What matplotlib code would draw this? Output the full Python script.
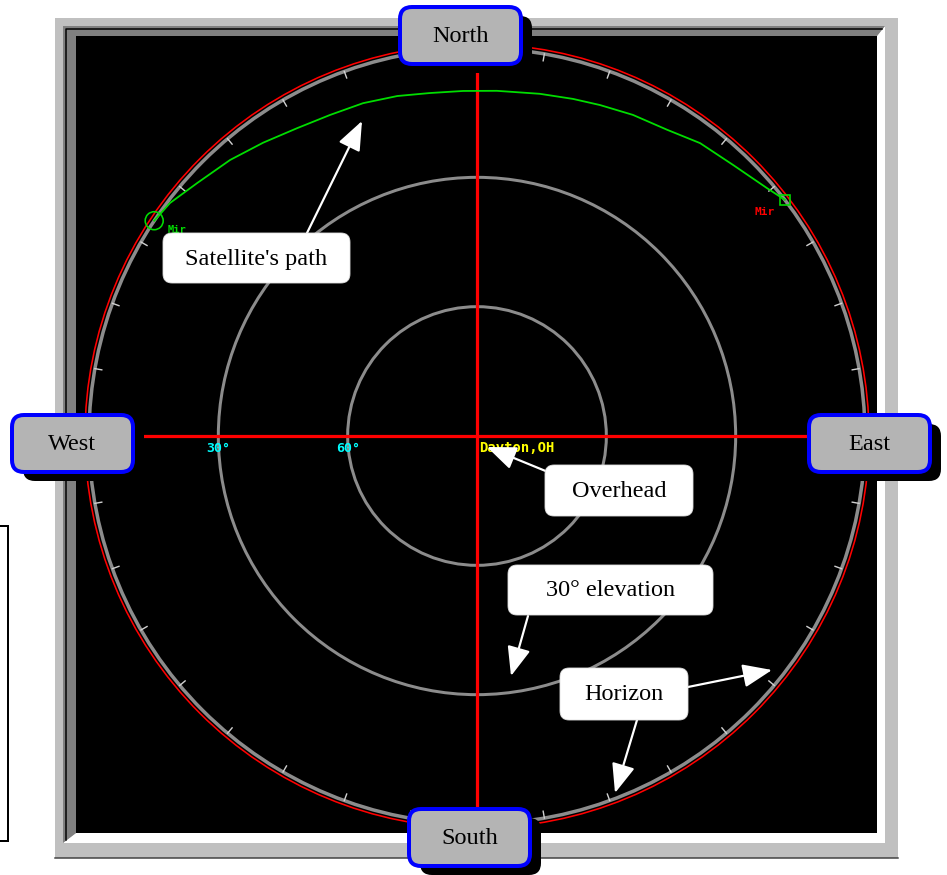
import numpy as np
import matplotlib
matplotlib.use("Agg")
import matplotlib.pyplot as plt
from matplotlib.patches import Rectangle, FancyBboxPatch, Circle, Polygon

# ---------------- data ----------------
# satellite pass (azimuth deg from north, clockwise; elevation deg)
path_az = [303.7, 307.2, 312.1, 318.2, 323.9, 329.7, 335.4, 341.1, 346.8, 352.2,
           357.7, 3.3, 10.4, 15.9, 20.4, 25.9, 31.8, 37.3, 43.4, 49.5, 52.5]
path_el = [0.0, 0.6, 2.5, 4.1, 5.8, 7.3, 8.1, 8.4, 9.0, 9.7,
           9.9, 9.8, 9.3, 8.7, 8.1, 7.2, 6.4, 4.6, 3.5, 1.5, 0.0]
satellite_name = "Mir"
ring_elevations = [30, 60]
ring_labels = ["30°", "60°"]
observer = "Dayton,OH"
compass_labels = ["North", "East", "South", "West"]
annotation_texts = ["Satellite's path", "Overhead", "30° elevation", "Horizon"]
tick_azimuths = list(range(0, 360, 10))

# ---------------- layout ----------------
W, H = 947, 875
CX, CY, R = 477, 436, 388

def sky_xy(az, el):
    az = np.radians(np.asarray(az, float))
    r = R * (90 - np.asarray(el, float)) / 90.0
    return CX + r * np.sin(az), CY - r * np.cos(az)

fig = plt.figure(figsize=(W / 100, H / 100), dpi=100)
ax = fig.add_axes([0, 0, 1, 1])
ax.set_xlim(0, W)
ax.set_ylim(H, 0)
ax.axis("off")
px = 0.72  # points per pixel

# left partial box
ax.plot([0, 8, 8, 0], [526, 526, 841, 841], color="black", lw=2 * px, solid_joinstyle="miter")

# frame
ax.add_patch(Rectangle((55, 18), 843, 840, facecolor="#c0c0c0", edgecolor="none", zorder=1))
ax.plot([55, 898], [857.5, 857.5], color="#404040", lw=1.5 * px, zorder=1.5)
# bottom/right white bevel
ax.add_patch(Polygon([(885, 26), (885, 843), (63, 843), (76, 833), (877, 833), (877, 36)],
                     closed=True, facecolor="white", edgecolor="none", zorder=2))
# top/left dark bevel
ax.add_patch(Polygon([(63, 843), (63, 26), (885, 26), (877, 36), (76, 36), (76, 833)],
                     closed=True, facecolor="#808080", edgecolor="none", zorder=2))
ax.plot([66, 66, 882], [840, 29, 29], color="black", lw=1.5 * px, zorder=2.5)
ax.add_patch(Rectangle((76, 36), 801, 797, facecolor="black", edgecolor="none", zorder=3))

# elevation rings
for el in ring_elevations:
    r = R * (90 - el) / 90
    ax.add_patch(Circle((CX, CY), r, fill=False, edgecolor="#8c8c8c", lw=3 * px, zorder=4))

# red cross
ax.plot([CX, CX], [72, 812], color="#ff0000", lw=3.2 * px, zorder=5)
ax.plot([145, 812], [CY, CY], color="#ff0000", lw=3.2 * px, zorder=5)

# horizon
ax.add_patch(Circle((CX, CY), R + 4, fill=False, edgecolor="#ff0000", lw=1.6 * px, zorder=4.5))
ax.add_patch(Circle((CX, CY), R, fill=False, edgecolor="#8c8c8c", lw=3.5 * px, zorder=5))
for az in tick_azimuths:
    x0, y0 = sky_xy(az, 0)
    x1, y1 = sky_xy(az, 90 * 7 / R)
    ax.plot([x0, x1], [y0, y1], color="#d0d0d0", lw=1.4 * px, zorder=5.5)

# ring labels
for el, lab in zip(ring_elevations, ring_labels):
    x, y = sky_xy(270, el)
    ax.text(x - 12, CY + 12, lab, color="#00ffff", fontsize=9.5, fontweight="bold",
            family="DejaVu Sans Mono", va="center", ha="left", zorder=6)
ax.text(CX + 2, CY + 12, observer, color="#ffff00", fontsize=10, fontweight="bold",
        family="DejaVu Sans Mono", va="center", ha="left", zorder=6)

# satellite path
px_path, py_path = sky_xy(path_az, path_el)
ax.plot(px_path, py_path, color="#00dd00", lw=1.8 * px, zorder=7)
ax.add_patch(Circle((px_path[0], py_path[0]), 9, fill=False, edgecolor="#00dd00", lw=1.6 * px, zorder=7))
ax.add_patch(Rectangle((px_path[-1] - 5, py_path[-1] - 5), 10, 10, fill=False,
                       edgecolor="#00dd00", lw=1.6 * px, zorder=7))
ax.text(px_path[0] + 13, py_path[0] + 9, satellite_name, color="#00dd00", fontsize=7.5,
        fontweight="bold", family="DejaVu Sans Mono", va="center", ha="left", zorder=6)
ax.text(px_path[-1] - 10, py_path[-1] + 12, satellite_name, color="#ff0000", fontsize=8,
        fontweight="bold", family="DejaVu Sans Mono", va="center", ha="right", zorder=6)

# annotation callouts
boxes = [(163, 233, 187, 50), (545, 465, 148, 51), (508, 565, 205, 50), (560, 668, 128, 52)]
arrows = [[((307, 233), (362, 121))],
          [((548, 472), (487, 447))],
          [((528, 616), (511, 676))],
          [((688, 687), (772, 670)), ((637, 720), (615, 793))]]
for (bx, by, bw, bh), txt, arrs in zip(boxes, annotation_texts, arrows):
    for (sx, sy), (tx, ty) in arrs:
        ax.annotate("", xy=(tx, ty), xytext=(sx, sy),
                    arrowprops=dict(arrowstyle="-|>,head_length=1.0,head_width=0.4",
                                    color="white", lw=2.2 * px, shrinkA=0, shrinkB=0,
                                    mutation_scale=18),
                    zorder=8)
    ax.add_patch(FancyBboxPatch((bx + 9, by + 9), bw - 18, bh - 18,
                                boxstyle="round,pad=9", facecolor="white",
                                edgecolor="#e0e0e0", lw=0.6, zorder=9))
    ax.text(bx + bw / 2, by + bh / 2 + 1, txt, fontsize=17.5, family="Liberation Serif",
            color="black", ha="center", va="center", zorder=10)

# compass buttons
buttons = {"North": (400, 7), "East": (809, 415), "South": (409, 809), "West": (12, 415)}
BW, BH = 121, 57
for name in compass_labels:
    bx, by = buttons[name]
    ax.add_patch(FancyBboxPatch((bx + 11 + 12, by + 9 + 12), BW - 24, BH - 24,
                                boxstyle="round,pad=12", facecolor="black",
                                edgecolor="none", zorder=11))
    ax.add_patch(FancyBboxPatch((bx + 12, by + 12), BW - 24, BH - 24,
                                boxstyle="round,pad=12", facecolor="#b4b4b4",
                                edgecolor="#0000ff", lw=4 * px, zorder=12))
    ax.text(bx + BW / 2, by + BH / 2 + 1, name, fontsize=17.5, family="Liberation Serif",
            color="black", ha="center", va="center", zorder=13)

fig.savefig("out.png", dpi=100, facecolor="white")
